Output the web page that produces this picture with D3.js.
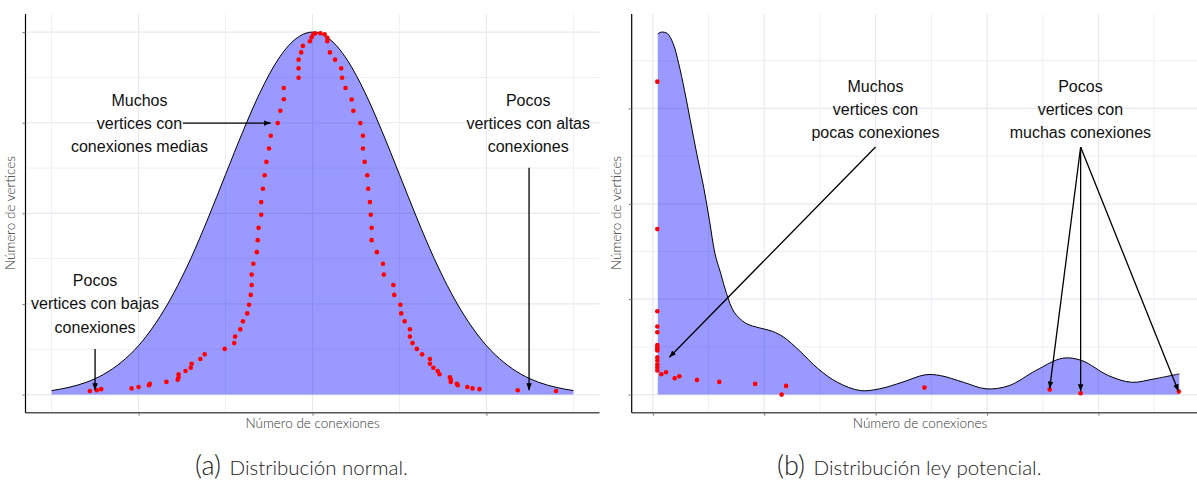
<!DOCTYPE html>
<html>
<head>
<meta charset="utf-8">
<script src="https://cdn.jsdelivr.net/npm/d3@7"></script>
<style>
  body { margin: 0; background: #fff; overflow: hidden; }
  .ann { font-family: "Liberation Sans", Arial, sans-serif; font-size: 16px; fill: #111; }
  .tit { font-family: Lato, "Open Sans", sans-serif; fill: #333; }
</style>
</head>
<body>
<div id="fig"></div>
<script>
// Datos panel (a): distribucion normal
// ====================================
var normX = [10,12,14,16,18,20,22,24,26,28,30,32,34,36,38,40,42,44,46,48,50,52,54,56,58,60,62,64,66,68,70];
var normY = [1.1,2.0,3.4,5.6,8.9,13.5,19.8,27.8,37.5,48.7,60.7,72.6,83.5,92.3,98.0,100,98.0,92.3,83.5,72.6,60.7,48.7,37.5,27.8,19.8,13.5,8.9,5.6,3.4,2.0,1.1];

var normDots = [
  [39.7,97.5],[39.9,98.6],[40.1,99.4],[40.3,99.7],[40.9,99.7],[41.4,99.4],[41.7,98.4],[41.7,97.5],
  [38.9,96.2],[38.7,94.4],[38.4,92.4],[38.4,90.0],[38.4,87.4],[36.7,84.6],[36.7,81.5],[36.3,78.3],
  [36.0,74.9],[35.2,71.4],[35.0,67.9],[34.7,64.2],[34.5,60.5],[34.3,56.8],[34.1,53.1],[34.1,49.6],
  [33.8,46.0],[33.7,42.6],[33.6,39.3],[33.2,36.1],[33.0,33.1],[33.0,30.2],[32.9,27.5],[32.7,24.8],
  [32.5,22.4],[32.0,20.2],[31.7,18.0],[31.1,16.0],[31.0,14.2],[29.9,12.6],[27.6,11.1],[27.1,9.8],
  [26.1,8.5],[26.0,7.4],[25.4,6.5],[24.6,5.6],[24.6,4.8],[24.5,4.1],[23.2,3.5],[21.3,3.0],
  [21.2,2.6],[20.0,2.1],[19.2,1.7],[15.7,1.5],[15.2,1.2],[14.4,1.0],
  [42.0,94.4],[42.6,92.4],[43.3,90.0],[43.4,87.4],[43.8,84.6],[44.5,81.4],[44.7,78.3],[45.5,74.9],
  [45.8,71.4],[45.8,67.9],[46.0,64.2],[46.3,60.5],[46.4,56.8],[46.6,53.1],[46.7,49.6],[46.8,46.0],
  [46.8,42.6],[47.4,39.3],[48.1,36.1],[48.2,33.1],[49.3,30.2],[49.4,27.5],[50.1,24.8],[50.2,22.4],
  [50.6,20.2],[51.2,18.0],[51.2,16.0],[51.5,14.2],[52.0,12.6],[52.6,11.1],[53.5,9.8],[53.5,8.5],
  [53.9,7.4],[54.4,6.5],[54.6,5.6],[55.8,4.8],[55.9,4.1],[55.9,3.5],[56.6,3.0],[56.7,2.6],
  [57.8,2.1],[58.4,1.7],[59.2,1.5],[63.6,1.2],[68.0,1.0]
];

var normXMajor = [20, 40, 60], normXMinor = [10, 30, 50, 70];
var normYMajor = [0, 25, 50, 75, 100], normYMinor = [12.5, 37.5, 62.5, 87.5];

// Datos panel (b): ley potencial
// ==============================
var powX = [2.2,3.7,6.5,9.1,11.6,14.2,16.8,19.7,22.8,25.4,27.9,30.5,33.1,36.5,41.7,47.7,53.6,58.8,65.7,74.2,82.8,93.1,101.7,111.9,122.2,129.1,139.4,149.6,159.9,171.9,183.9,192.5,204.5,214.8,225.1,236.3];
var powY = [3.78,3.80,3.785,3.68,3.47,3.19,2.875,2.525,2.175,1.826,1.476,1.267,1.057,0.864,0.748,0.700,0.664,0.601,0.462,0.27,0.129,0.042,0.060,0.129,0.207,0.199,0.129,0.060,0.094,0.252,0.381,0.357,0.199,0.129,0.165,0.217];

var powDots = [
  [2,3.281],[2,1.735],[2,0.874],[2,0.714],[2,0.654],[2,0.519],[2,0.498],[2,0.477],[2,0.462],
  [2,0.391],[2,0.357],[2,0.315],[2,0.283],[2,0.252],
  [3.8,0.213],[5.9,0.234],[9.8,0.171],[11.9,0.192],[19.8,0.154],[29.8,0.133],[45.9,0.112],
  [59.8,0.091],[57.8,0.0],[121.9,0.073],[178.1,0.052],[192.0,0.014],[236.1,0.031]
];

var powXMajor = [0, 50, 100, 150, 200], powXMinor = [25, 75, 125, 175, 225];
var powYMajor = [0, 1, 2, 3], powYMinor = [0.5, 1.5, 2.5, 3.5];

// Anotaciones
// ===========
var normNotes = [
  { x: 20.1, y: 74.8, lines: ["Muchos", "vertices con", "conexiones medias"] },
  { x: 64.8, y: 74.8, lines: ["Pocos", "vertices con altas", "conexiones"] },
  { x: 15.0, y: 25.0, lines: ["Pocos", "vertices con bajas", "conexiones"] }
];
var normArrows = [
  [25.1, 74.9, 35.2, 74.9],
  [64.9, 62.6, 64.9, 1.2],
  [15.0, 12.6, 15.0, 1.2]
];
var powNotes = [
  { x: 99.9, y: 2.99, lines: ["Muchos", "vertices con", "pocas conexiones"] },
  { x: 191.9, y: 2.99, lines: ["Pocos", "vertices con", "muchas conexiones"] }
];
var powArrows = [
  [99.95, 2.595, 7.4, 0.391],
  [192.0, 2.595, 178.1, 0.063],
  [192.0, 2.595, 192.0, 0.035],
  [192.0, 2.595, 235.9, 0.035]
];

// SVG
// ===
var W = 1197, H = 483;
var svg = d3.select("#fig").append("svg")
  .attr("width", W).attr("height", H);

svg.append("defs").append("marker")
  .attr("id", "arrow")
  .attr("viewBox", "0 0 10 10")
  .attr("refX", 10).attr("refY", 5)
  .attr("markerUnits", "userSpaceOnUse")
  .attr("markerWidth", 7).attr("markerHeight", 7)
  .attr("orient", "auto")
  .append("path").attr("d", "M0,1L10,5L0,9Z").attr("fill", "#000");

function panel(cfg) {
  var x = d3.scaleLinear().domain(cfg.xDomain).range(cfg.xRange);
  var y = d3.scaleLinear().domain(cfg.yDomain).range([412.7, 14]);
  var g = svg.append("g");
  var x0 = cfg.xRange[0], x1 = cfg.xRange[1];

  // rejilla
  g.selectAll(".hmin").data(cfg.yMinor).enter().append("line")
    .attr("x1", x0).attr("x2", x1).attr("y1", y).attr("y2", y)
    .attr("stroke", "#efeff5").attr("stroke-width", 1);
  g.selectAll(".hmaj").data(cfg.yMajor).enter().append("line")
    .attr("x1", x0).attr("x2", x1).attr("y1", y).attr("y2", y)
    .attr("stroke", "#e8e8f0").attr("stroke-width", 1.2);
  g.selectAll(".vmin").data(cfg.xMinor).enter().append("line")
    .attr("y1", 14).attr("y2", 412.7).attr("x1", x).attr("x2", x)
    .attr("stroke", "#efeff5").attr("stroke-width", 1);
  g.selectAll(".vmaj").data(cfg.xMajor).enter().append("line")
    .attr("y1", 14).attr("y2", 412.7).attr("x1", x).attr("x2", x)
    .attr("stroke", "#e8e8f0").attr("stroke-width", 1.2);

  // area y curva
  var pts = cfg.cx.map(function(d, i) { return [d, cfg.cy[i]]; });
  g.append("path").datum(pts)
    .attr("fill", "rgba(0,0,255,0.4)")
    .attr("d", d3.area().curve(cfg.curve)
      .x(function(d) { return x(d[0]); })
      .y0(y(0))
      .y1(function(d) { return y(d[1]); }));
  g.append("path").datum(pts)
    .attr("fill", "none").attr("stroke", "#000").attr("stroke-width", 1)
    .attr("d", d3.line().curve(cfg.curve)
      .x(function(d) { return x(d[0]); })
      .y(function(d) { return y(d[1]); }));

  // puntos
  g.selectAll(".dot").data(cfg.dots).enter().append("circle")
    .attr("cx", function(d) { return x(d[0]); })
    .attr("cy", function(d) { return y(d[1]); })
    .attr("r", 2.3).attr("fill", "#ff0000");

  // ejes
  g.append("g").attr("transform", "translate(0,412.7)")
    .call(d3.axisBottom(x).tickValues(cfg.xMajor).tickFormat("").tickSizeInner(3).tickSizeOuter(0))
    .call(function(a) {
      a.select(".domain").attr("stroke", "#555").attr("stroke-width", 1.4)
        .attr("d", "M" + x0 + ",0H" + x1);
      a.selectAll(".tick line").attr("stroke", "#777");
    });
  g.append("g").attr("transform", "translate(" + x0 + ",0)")
    .call(d3.axisLeft(y).tickValues(cfg.yMajor).tickFormat("").tickSizeInner(3).tickSizeOuter(0))
    .call(function(a) {
      a.select(".domain").attr("stroke", "#000").attr("stroke-width", 1.2)
        .attr("d", "M0,14V412.7");
      a.selectAll(".tick line").attr("stroke", "#777");
    });

  // flechas
  g.selectAll(".arr").data(cfg.arrows).enter().append("line")
    .attr("x1", function(d) { return x(d[0]); })
    .attr("y1", function(d) { return y(d[1]); })
    .attr("x2", function(d) { return x(d[2]); })
    .attr("y2", function(d) { return y(d[3]); })
    .attr("stroke", "#000").attr("stroke-width", 1.3)
    .attr("marker-end", "url(#arrow)");

  // textos
  cfg.notes.forEach(function(n) {
    var t = g.append("text").attr("class", "ann").attr("text-anchor", "middle");
    n.lines.forEach(function(l, i) {
      t.append("tspan").attr("x", x(n.x)).attr("y", y(n.y) + 5.5 + (i - 1) * 23.2).text(l);
    });
  });

  // titulos de ejes
  g.append("text").attr("class", "tit")
    .attr("text-anchor", "middle").attr("font-size", 13.5).attr("font-weight", 300)
    .attr("x", cfg.titleX).attr("y", 428)
    .text("Número de conexiones");
  g.append("text").attr("class", "tit")
    .attr("text-anchor", "middle").attr("font-size", 13.5).attr("font-weight", 300)
    .attr("transform", "translate(" + cfg.yTitleX + ",213) rotate(-90)")
    .text("Número de vertices");

  // pie de figura
  var c = svg.append("text").attr("class", "tit")
    .attr("x", cfg.capX).attr("y", 475).attr("font-weight", 300).style("fill", "#222");
  c.append("tspan").attr("font-size", 27).text(cfg.capTag);
  c.append("tspan").attr("font-size", 20.5).attr("dx", 3).text(" " + cfg.capText);
}

panel({
  xDomain: [7, 73], xRange: [25.5, 599.5], yDomain: [-5, 105],
  cx: normX, cy: normY, dots: normDots, curve: d3.curveMonotoneX,
  xMajor: normXMajor, xMinor: normXMinor, yMajor: normYMajor, yMinor: normYMinor,
  arrows: normArrows, notes: normNotes,
  titleX: 312.6, yTitleX: 14.5,
  capX: 195, capTag: "(a)", capText: "Distribución normal."
});

panel({
  xDomain: [-9.5, 248], xRange: [631.7, 1205.4], yDomain: [-0.19, 3.99],
  cx: powX, cy: powY, dots: powDots, curve: d3.curveCatmullRom.alpha(0.5),
  xMajor: powXMajor, xMinor: powXMinor, yMajor: powYMajor, yMinor: powYMinor,
  arrows: powArrows, notes: powNotes,
  titleX: 920, yTitleX: 621,
  capX: 777, capTag: "(b)", capText: "Distribución ley potencial."
});
</script>
</body>
</html>
